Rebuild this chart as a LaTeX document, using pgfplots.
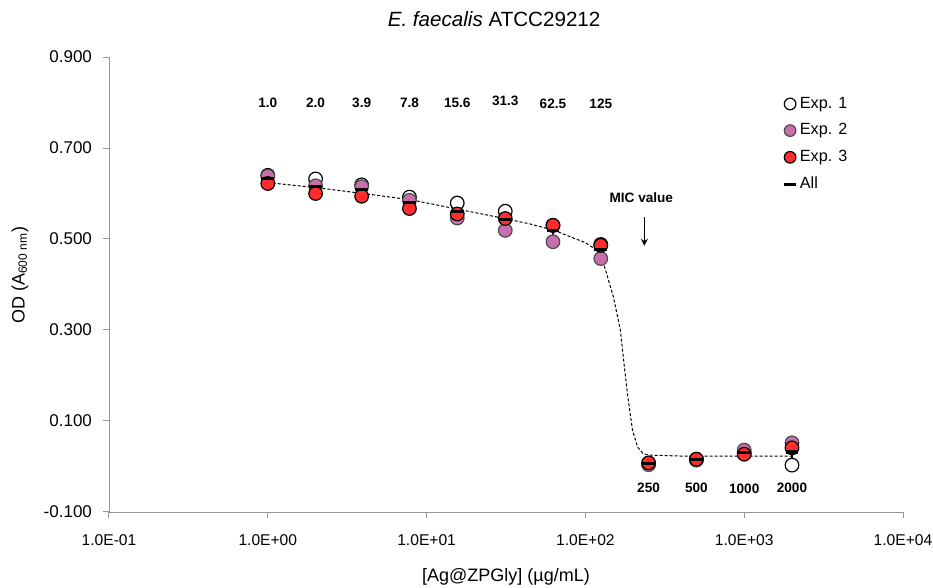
\documentclass[border=0pt]{standalone}
\usepackage{fontspec}
\setmainfont{Liberation Sans}
\usepackage{pgfplots}
\pgfplotsset{compat=1.18}
\usetikzlibrary{arrows.meta}
\definecolor{exptwo}{RGB}{200,110,170}
\definecolor{expthree}{RGB}{255,45,45}
\definecolor{axgray}{RGB}{150,150,150}

% OD readings, one table per experiment
\pgfplotstableread{
x     y
1     0.640
2     0.632
3.9   0.619
7.8   0.592
15.6  0.579
31.3  0.561
62.5  0.530
125   0.488
250   0.006
500   0.016
1000  0.030
2000  0.003
}\expone
\pgfplotstableread{
x     y
1     0.638
2     0.617
3.9   0.615
7.8   0.585
15.6  0.546
31.3  0.519
62.5  0.494
125   0.457
250   0.004
500   0.014
1000  0.036
2000  0.052
}\exptwo
\pgfplotstableread{
x     y
1     0.622
2     0.600
3.9   0.594
7.8   0.567
15.6  0.555
31.3  0.545
62.5  0.530
125   0.486
250   0.008
500   0.016
1000  0.027
2000  0.041
}\expthree
\pgfplotstableread{
x     y      e
1     0.633  0.010
2     0.616  0.016
3.9   0.609  0.013
7.8   0.581  0.013
15.6  0.560  0.017
31.3  0.542  0.021
62.5  0.518  0.021
125   0.477  0.017
250   0.006  0.002
500   0.015  0.001
1000  0.031  0.005
2000  0.032  0.026
}\expall

\begin{document}
\begin{tikzpicture}
\begin{axis}[
  scale only axis, width=397pt, height=227.5pt,
  xmode=log, xmin=0.1, xmax=10000, ymin=-0.1, ymax=0.9,
  axis x line=bottom, axis y line=left,
  axis line style={axgray, -},
  tick align=outside, major tick length=3pt,
  tick style={axgray, line width=0.5pt},
  xminorticks=false,
  xtick={0.1,1,10,100,1000,10000},
  xticklabels={1.0E-01,1.0E+00,1.0E+01,1.0E+02,1.0E+03,1.0E+04},
  ytick={-0.1,0.1,0.3,0.5,0.7,0.9},
  yticklabels={-0.100,0.100,0.300,0.500,0.700,0.900},
  xticklabel style={font=\fontsize{7.8}{9}\selectfont, yshift=-5pt},
  yticklabel style={font=\fontsize{8.5}{10}\selectfont, xshift=-2pt},
  xlabel={[Ag@ZPGly] (µg/mL)},
  ylabel={OD (A\textsubscript{600 nm})},
  label style={font=\fontsize{9}{10}\selectfont},
  xlabel style={at={(axis description cs:0.5,-0.143)}, anchor=center},
  ylabel style={at={(axis description cs:-0.112,0.52)}, anchor=center},
  legend style={at={(axis description cs:0.85,0.922)}, anchor=north west,
    draw=none, fill=none, font=\fontsize{8.1}{9}\selectfont,
    row sep=2.2pt, inner sep=0pt},
  legend image post style={mark size=2.9pt},
  legend cell align=left,
  clip=false,
]
\addplot[only marks, mark=*, mark size=3.4pt, mark options={fill=white, draw=black, line width=0.6pt}] table[x=x,y=y] {\expone};
\addlegendentry{Exp. 1}
\addplot[only marks, mark=*, mark size=3.4pt, mark options={fill=exptwo, draw=black!70, line width=0.6pt}] table[x=x,y=y] {\exptwo};
\addlegendentry{Exp. 2}
\addplot[only marks, mark=*, mark size=3.4pt, mark options={fill=expthree, draw=black, line width=0.6pt}] table[x=x,y=y] {\expthree};
\addlegendentry{Exp. 3}
\addplot[only marks, mark=-, mark size=3.2pt, mark options={line width=1.6pt}, black,
  error bars/.cd, y dir=both, y explicit, error mark=none,
  error bar style={line width=0.7pt, black}] table[x=x,y=y,y error=e] {\expall};
\addlegendentry{All}
% fitted curve
\addplot[black, line width=0.5pt, dash pattern=on 1.5pt off 1pt, forget plot] coordinates {
  (1,0.624) (2,0.613) (4,0.600) (8,0.586) (16,0.565) (30,0.546) (45,0.533)
  (65,0.518) (80,0.505) (100,0.492) (115,0.478) (130,0.447) (150,0.373)
  (166,0.300) (175,0.227) (185,0.153) (198,0.080) (213,0.043) (230,0.029)
  (250,0.025) (400,0.023) (2000,0.023)
};
% concentration labels
\begin{scope}[every node/.style={font=\bfseries\fontsize{6.8}{7}\selectfont}]
\node at (axis cs:1,0.80) {1.0};
\node at (axis cs:2,0.80) {2.0};
\node at (axis cs:3.9,0.80) {3.9};
\node at (axis cs:7.8,0.80) {7.8};
\node at (axis cs:15.6,0.80) {15.6};
\node at (axis cs:31.3,0.803) {31.3};
\node at (axis cs:62.5,0.797) {62.5};
\node at (axis cs:125,0.797) {125};
\node at (axis cs:250,-0.047) {250};
\node at (axis cs:500,-0.047) {500};
\node at (axis cs:1000,-0.050) {1000};
\node at (axis cs:2000,-0.047) {2000};
\node at (axis cs:225,0.592) {MIC value};
\end{scope}
\draw[-{Stealth[length=3.5pt,width=3.5pt]}, line width=0.75pt] (axis cs:235,0.548) -- (axis cs:235,0.485);
\node[anchor=base, font=\fontsize{10.3}{12}\selectfont] at (axis description cs:0.485,1.068) {\textit{E. faecalis} ATCC29212};
\end{axis}
\pgfresetboundingbox
\path (-54.5pt,-38pt) rectangle (412pt,256pt);
\end{tikzpicture}
\end{document}
